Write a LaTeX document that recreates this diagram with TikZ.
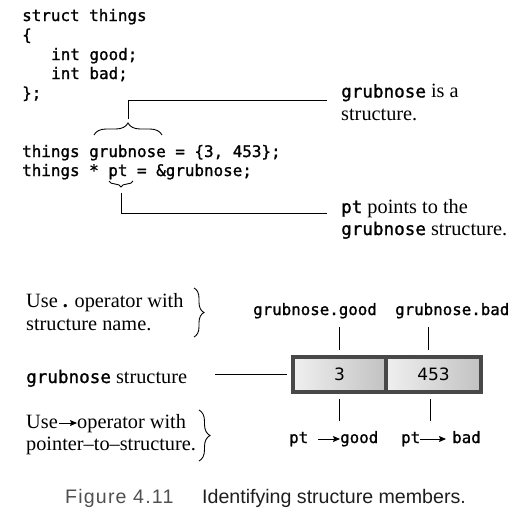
\documentclass[tikz,border=0pt]{standalone}
\usepackage{fontspec}
\setmainfont{Liberation Serif}
\setmonofont[FakeBold=1.2]{DejaVu Sans Mono}
\newfontfamily\capfont{Liberation Sans}
\newfontfamily\symfont{DejaVu Sans}
\usetikzlibrary{decorations.pathreplacing,arrows.meta}
\definecolor{boxborder}{HTML}{484848}
\definecolor{capgray}{HTML}{505050}
\definecolor{capdark}{HTML}{1E1E1E}
\tikzset{
  code/.style={anchor=base west, inner sep=0pt, font=\ttfamily\fontsize{15.9}{19}\selectfont},
  mlab/.style={anchor=base west, inner sep=0pt, font=\fontsize{20.3}{23}\selectfont},
  mono/.style={anchor=base west, inner sep=0pt, font=\ttfamily\fontsize{15.8}{19}\selectfont},
  captxt/.style={anchor=base west, inner sep=0pt, font=\capfont\fontsize{19.6}{22}\selectfont},
  cell/.style={draw=boxborder, line width=3.6pt, minimum height=35pt, inner sep=0pt,
     left color=white!94!black, right color=white!76!black, font=\symfont\fontsize{17}{20}\selectfont},
  brc/.style={decorate, decoration={brace, amplitude=#1}, line width=0.9pt},
  lead/.style={line width=0.8pt},
  opar/.style={line width=0.9pt, -{Stealth[length=7pt,width=6pt,inset=1.2pt]}}
}
\newcommand{\tg}{\ttfamily\fontsize{17.6}{20}\selectfont}
\begin{document}
\begin{tikzpicture}[x=1pt,y=-1pt]
\useasboundingbox (0,0) rectangle (523,520);
% code
\node[code] (l1) at (22,21) {struct things};
\node[code] (l2) at (22,40.5) {\{};
\node[code] (l3) at (51,60) {int good;};
\node[code] (l4) at (51,79) {int bad;};
\node[code] (l5) at (22,98.5) {\};};
\node[code] (l6) at (22,157) {things grubnose = \{3, 453\};};
\node[code] (l7) at (22,176) {things * pt = \&grubnose;};
% top brace
\draw[brc=12pt] (94,135) -- (162,135);
\coordinate (t1) at (128,119);
\node[mlab] (lab1) at (341,97.5) {{\tg grubnose} is a};
\node[mlab] (lab1b) at (341,120) {structure.};
\draw[lead] (t1) |- (327,100);
% pt brace
\draw[brc=6pt] (133,181) -- (109,181);
\coordinate (t2) at (121,193);
\node[mlab] (lab2) at (341,213) {{\tg pt} points to the};
\node[mlab] (lab2b) at (341,235) {{\tg grubnose} structure.};
\draw[lead] (t2) |- (327,213);
% bottom
\node[mlab] (u1) at (26,307) {Use {\bfseries.} operator with};
\node[mlab] (u1b) at (26,330) {structure name.};
\draw[brc=10pt] (194,288) -- (194,337);
\node[mono] (gg) at (253,315) {grubnose.good};
\node[mono] (gb) at (395,315) {grubnose.bad};
\node[cell] (c1) at (339.5,374.5) [minimum width=93pt] {3};
\node[cell] (c2) at (433.5,374.5) [minimum width=95pt] {453};
\draw[lead] ([yshift=5pt]c1.north) -- ++(0,-23);
\draw[lead] ([xshift=-5pt,yshift=5pt]c2.north) -- ++(0,-23);
\draw[lead] ([yshift=-5pt]c1.south) -- ++(0,22);
\draw[lead] ([xshift=-3.5pt,yshift=-5pt]c2.south) -- ++(0,22);
\node[mlab] (gs) at (26,383) {{\tg grubnose} structure};
\draw[lead] ([xshift=-4pt]c1.west) -- ++(-72,0);
\node[mlab] (u2a) at (26,428) {Use};
\node[mlab] (u2b) at (77,428) {operator with};
\draw[opar] ([xshift=1.5pt]u2a.base east |- 0,423) -- (u2b.base west |- 0,423);
\node[mlab] (u2c) at (26,450) {pointer–to–structure.};
\draw[brc=11pt] (199,410) -- (199,461);
\node[mono] (p1a) at (289,443) {pt};
\node[mono] (p1b) at (340,443) {good};
\draw[opar] (318,439) -- (p1b.base west |- 0,439);
\node[mono] (p2a) at (401,443) {pt};
\node[mono] (p2b) at (452,443) {bad};
\draw[opar] (p2a.base east |- 0,439) -- (446,439);
% caption
\node[captxt, text=capgray] (f1) at (65,503) {\addfontfeatures{LetterSpace=6}Figure 4.11};
\node[captxt, text=capdark] (f2) at (202,503) {Identifying structure members.};
\end{tikzpicture}
\end{document}
